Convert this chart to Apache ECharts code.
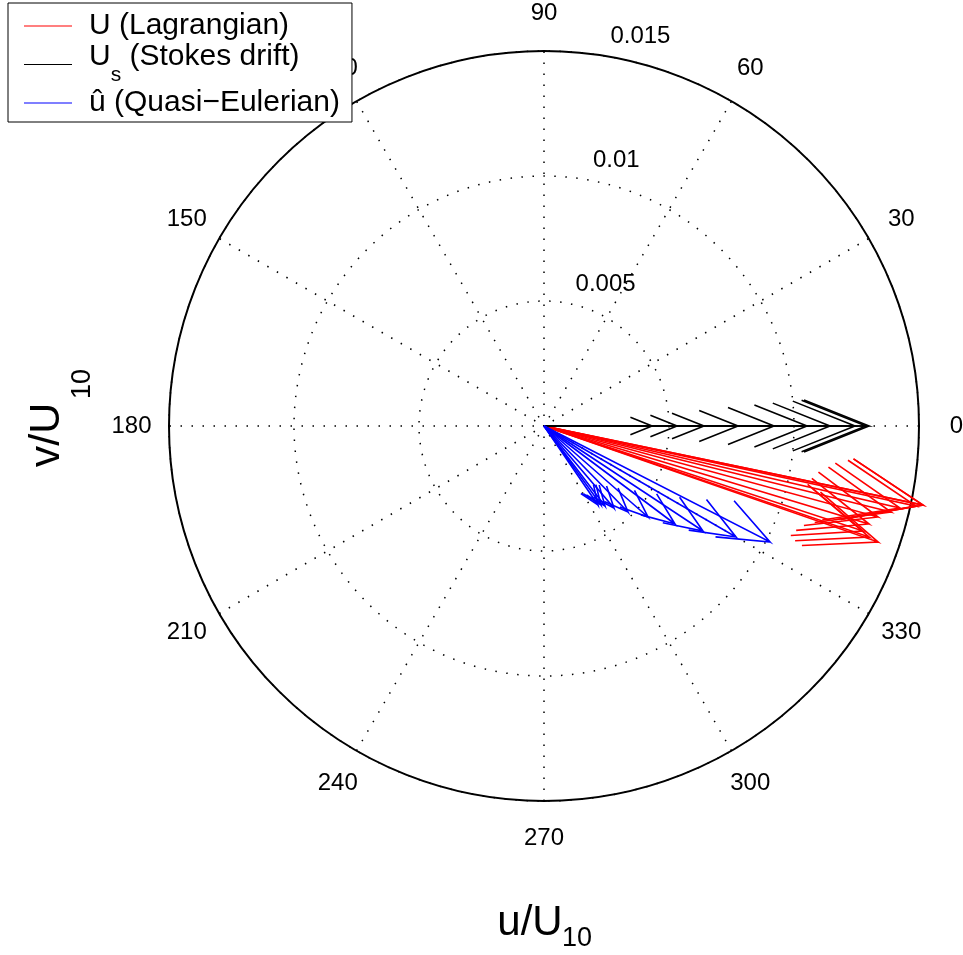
<!DOCTYPE html>
<html><head><meta charset="utf-8">
<script src="https://cdn.jsdelivr.net/npm/echarts@6/dist/echarts.min.js"></script>
<style>html,body{margin:0;padding:0;background:#fff}#c{width:963px;height:955px}</style>
</head><body><div id="c"></div>
<script>
// ---- polar frame ----
const rMax = 0.015;
const rInc = 0.005;
const ringValues = [0.005, 0.01, 0.015];
const ringLabels = ['0.005', '0.01', '0.015'];
const spokeAngles = [30, 60, 90, 120, 150, 180];
const angleTicks = [0, 30, 60, 90, 120, 150, 180, 210, 240, 270, 300, 330];
const angleLabels = ['0', '30', '60', '90', '120', '150', '180', '210', '240', '270', '300', '330'];

// ---- series (u/U10, v/U10) ----
const seriesNames = ['U (Lagrangian)', 'Us (Stokes drift)', 'û (Quasi\u2212Eulerian)'];
const lagrU  = [0.01336, 0.01300, 0.01276, 0.01300, 0.01336, 0.01388, 0.01424, 0.01488, 0.01516, 0.01516];
const lagrV  = [-0.00464, -0.00444, -0.00420, -0.00392, -0.00364, -0.00344, -0.00328, -0.00320, -0.00316, -0.00316];
const stokesU = [0.00432, 0.00532, 0.00640, 0.00776, 0.00920, 0.01052, 0.01144, 0.01244, 0.01288, 0.01300];
const stokesV = [0, 0, 0, 0, 0, 0, 0, 0, 0, 0];
const eulerU = [0.00904, 0.00768, 0.00636, 0.00524, 0.00416, 0.00336, 0.00280, 0.00244, 0.00228, 0.00216];
const eulerV = [-0.00464, -0.00444, -0.00420, -0.00392, -0.00364, -0.00344, -0.00328, -0.00320, -0.00316, -0.00316];

const FONT = "'Liberation Sans', Arial, Helvetica, sans-serif";
const DEG = Math.PI / 180;

function zip(a, b) { return a.map((x, i) => [x, b[i]]); }

function arrowRender(color) {
  return function (params, api) {
    const u = api.value(0), v = api.value(1);
    const pts = [
      [0, 0], [u, v],
      [0.8 * u - 0.08 * v, 0.8 * v + 0.08 * u],
      [u, v],
      [0.8 * u + 0.08 * v, 0.8 * v - 0.08 * u]
    ].map(q => api.coord(q));
    return { type: 'polyline', shape: { points: pts },
      style: { stroke: color, lineWidth: 1.6, fill: null } };
  };
}

const dotted = { stroke: '#000', lineWidth: 1.5, lineDash: [1.5, 9.5], fill: null };
function txt(t, size) { return { text: t, fontFamily: FONT, fontSize: size, fill: '#000', align: 'center', verticalAlign: 'middle' }; }

const chart = echarts.init(document.getElementById('c'), null, { renderer: 'canvas' });
chart.setOption({
  animation: false,
  backgroundColor: '#fff',
  grid: { left: 169, top: 51, width: 750, height: 750, containLabel: false },
  xAxis: {
    type: 'value', min: -rMax, max: rMax,
    axisLine: { show: false }, axisTick: { show: false }, axisLabel: { show: false }, splitLine: { show: false }
  },
  yAxis: {
    type: 'value', min: -rMax, max: rMax,
    axisLine: { show: false }, axisTick: { show: false }, axisLabel: { show: false }, splitLine: { show: false }
  },
  graphic: [
    { type: 'text', x: 530, y: 923, silent: true, style: txt('u/U', 42) },
    { type: 'text', x: 577, y: 939, silent: true, style: txt('10', 27) },
    { type: 'text', x: 47, y: 435, rotation: Math.PI / 2, silent: true, style: txt('v/U', 43) },
    { type: 'text', x: 83, y: 384, rotation: Math.PI / 2, silent: true, style: txt('10', 27) }
  ],
  legend: {
    left: 8, top: 3, orient: 'vertical', selectedMode: false,
    itemWidth: 48, itemHeight: 1, itemGap: 1, icon: 'rect',
    padding: [8, 12, 4, 16],
    backgroundColor: '#fff', borderColor: '#000', borderWidth: 1, borderRadius: 0,
    data: seriesNames,
    formatter: function (name) {
      if (name === seriesNames[1]) return '{m|U}{sub|s}{m| (Stokes drift)}';
      return name;
    },
    textStyle: { fontFamily: FONT, fontSize: 30, lineHeight: 30, color: '#000', padding: [0, 0, 0, 12],
      rich: {
        m: { fontFamily: FONT, fontSize: 30, lineHeight: 26, color: '#000', padding: [0, 0, 15, 0] },
        sub: { fontFamily: FONT, fontSize: 21, lineHeight: 20, color: '#000', padding: [21, 0, 0, 0] } } }
  },
  series: [
    { type: 'custom', silent: true, z: 1, data: ringValues.map(r => [r, 0]),
      renderItem: function (p, api) {
        const r = api.value(0), c = api.coord([0, 0]), e = api.coord([r, 0]);
        return { type: 'circle', shape: { cx: c[0], cy: c[1], r: e[0] - c[0] }, style: dotted };
      } },
    { type: 'custom', silent: true, z: 1, data: spokeAngles.map(a => [a, 0]),
      renderItem: function (p, api) {
        const a = api.value(0) * DEG;
        const p1 = api.coord([-rMax * Math.cos(a), -rMax * Math.sin(a)]);
        const p2 = api.coord([rMax * Math.cos(a), rMax * Math.sin(a)]);
        return { type: 'line', shape: { x1: p1[0], y1: p1[1], x2: p2[0], y2: p2[1] }, style: dotted };
      } },
    { type: 'custom', silent: true, z: 1, data: [[rMax, 0]],
      renderItem: function (p, api) {
        const r = api.value(0), c = api.coord([0, 0]), e = api.coord([r, 0]);
        return { type: 'circle', shape: { cx: c[0], cy: c[1], r: e[0] - c[0] },
          style: { stroke: '#000', lineWidth: 2, fill: null } };
      } },
    { type: 'custom', silent: true, z: 1, data: angleTicks.map((a, i) => [a, i]),
      renderItem: function (p, api) {
        const a = api.value(0) * DEG;
        const pt = api.coord([1.1 * rMax * Math.cos(a), 1.1 * rMax * Math.sin(a)]);
        return { type: 'text', x: pt[0], y: pt[1], style: txt(angleLabels[p.dataIndex], 24) };
      } },
    { type: 'custom', silent: true, z: 1, data: ringValues.map((r, i) => [r, i]),
      renderItem: function (p, api) {
        const r = api.value(0) + rInc / 20, a = 82 * DEG;
        const pt = api.coord([r * Math.cos(a), r * Math.sin(a)]);
        return { type: 'text', x: pt[0], y: pt[1],
          style: { text: '\u00a0\u00a0' + ringLabels[p.dataIndex], fontFamily: FONT, fontSize: 24, fill: '#000', align: 'left', verticalAlign: 'bottom' } };
      } },
    { name: seriesNames[0], type: 'custom', z: 3, clip: false, itemStyle: { color: '#ff0000' },
      data: zip(lagrU, lagrV), renderItem: arrowRender('#ff0000') },
    { name: seriesNames[1], type: 'custom', z: 3, clip: false, itemStyle: { color: '#000000' },
      data: zip(stokesU, stokesV), renderItem: arrowRender('#000000') },
    { name: seriesNames[2], type: 'custom', z: 3, clip: false, itemStyle: { color: '#0000ff' },
      data: zip(eulerU, eulerV), renderItem: arrowRender('#0000ff') }
  ]
});
</script></body></html>
